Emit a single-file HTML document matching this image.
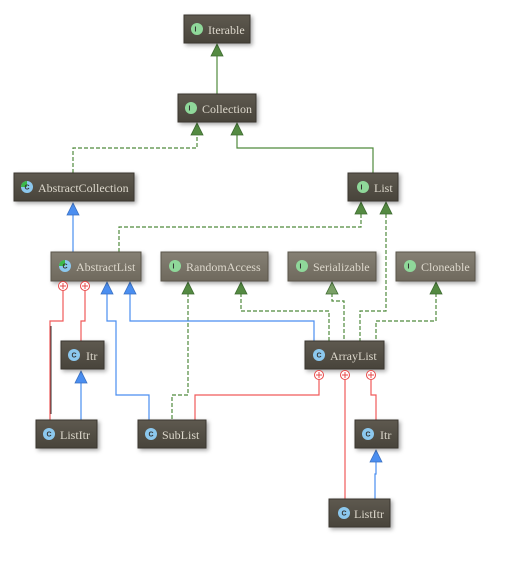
<!DOCTYPE html>
<html><head><style>
html,body{margin:0;padding:0;background:#fff;width:527px;height:572px;overflow:hidden}
svg{display:block}
text{font-family:"Liberation Serif","DejaVu Serif",serif;font-size:12px;fill:#ddd8cc}
.ic{font-family:"Liberation Sans",sans-serif;font-size:7px;font-weight:bold;fill:#333}
</style></head><body>
<svg width="527" height="572" viewBox="0 0 527 572" xmlns="http://www.w3.org/2000/svg">
<defs>
<linearGradient id="g" x1="0" y1="0" x2="0" y2="1"><stop offset="0" stop-color="#5e594f"/><stop offset="1" stop-color="#48443b"/></linearGradient>
<linearGradient id="g2" x1="0" y1="0" x2="0" y2="1"><stop offset="0" stop-color="#858074"/><stop offset="1" stop-color="#6f695d"/></linearGradient>
<marker id="ag" viewBox="0 0 12 12" refX="6" refY="0" markerWidth="12" markerHeight="12" orient="auto-start-reverse" markerUnits="userSpaceOnUse"><path d="M0,12 L6,0 L12,12 Z" fill="#548a42" stroke="#3d6a30" stroke-width="0.8"/></marker>
</defs>
<g fill="none" stroke-width="1.2">
<!-- green -->
<path d="M217 56V94" stroke="#4f8a3c"/>
<path d="M73 173V148H197V135" stroke="#4f8a3c" stroke-dasharray="4,2"/>
<path d="M373 173V148H237V135" stroke="#4f8a3c"/>
<path d="M119 252V227H361V214" stroke="#4f8a3c" stroke-dasharray="4,2"/>
<path d="M386 214V311H360V341" stroke="#4f8a3c" stroke-dasharray="4,2"/>
<path d="M188 293V395H172V420" stroke="#4f8a3c" stroke-dasharray="4,2"/>
<path d="M241 293V311H329V341" stroke="#4f8a3c" stroke-dasharray="4,2"/>
<path d="M332 293V301H344V341" stroke="#4f8a3c" stroke-dasharray="4,2"/>
<path d="M436 293V321H376V341" stroke="#4f8a3c" stroke-dasharray="4,2"/>
<!-- blue -->
<path d="M73 215V252" stroke="#4a8ef0"/>
<path d="M107 293V321H116V395H149V420" stroke="#4a8ef0"/>
<path d="M130 293V321H314V341" stroke="#4a8ef0"/>
<path d="M81 383V420" stroke="#4a8ef0"/>
<path d="M376 462V474H375V499" stroke="#4a8ef0"/>
<!-- red -->
<path d="M63 291V321H50V420" stroke="#f05a5a"/>
<path d="M85 291V321H81V341" stroke="#f05a5a"/>
<path d="M319 380V395H195V420" stroke="#f05a5a"/>
<path d="M345 380V499" stroke="#f05a5a"/>
<path d="M371 380V395H376V420" stroke="#f05a5a"/>
<path d="M51 326V414" stroke="#333" stroke-width="1"/>
</g>
<!-- green arrowheads -->
<g fill="#548a42" stroke="#3d6a30" stroke-width="0.8">
<path d="M211 56L217 44L223 56Z"/>
<path d="M191 135L197 123L203 135Z"/>
<path d="M231 135L237 123L243 135Z"/>
<path d="M355 214L361 202L367 214Z"/>
<path d="M380 214L386 202L392 214Z"/>
<path d="M182 294L188 282L194 294Z"/>
<path d="M235 294L241 282L247 294Z"/>
<path d="M326 294L332 282L338 294Z" fill="#7aa066"/>
<path d="M430 294L436 282L442 294Z"/>
</g>
<!-- blue arrowheads -->
<g fill="#4a8ef0" stroke="#3a70c0" stroke-width="0.8">
<path d="M67 215L73 203L79 215Z"/>
<path d="M101 294L107 282L113 294Z"/>
<path d="M124 294L130 282L136 294Z"/>
<path d="M75 383L81 371L87 383Z"/>
<path d="M370 462L376 450L382 462Z"/>
</g>
<!-- boxes -->
<g style="filter:drop-shadow(2px 2px 2px rgba(0,0,0,0.35))">
<rect x="184" y="15" width="66" height="28" fill="url(#g)" stroke="#3a362f"/>
<rect x="178" y="94" width="78" height="28" fill="url(#g)" stroke="#3a362f"/>
<rect x="14" y="173" width="120" height="28" fill="url(#g)" stroke="#3a362f"/>
<rect x="348" y="173" width="50" height="28" fill="url(#g)" stroke="#3a362f"/>
<rect x="51" y="252" width="90" height="29" fill="url(#g2)" stroke="#5a554a"/>
<rect x="161" y="252" width="107" height="29" fill="url(#g2)" stroke="#5a554a"/>
<rect x="288" y="252" width="88" height="29" fill="url(#g2)" stroke="#5a554a"/>
<rect x="396" y="252" width="79" height="29" fill="url(#g2)" stroke="#5a554a"/>
<rect x="61" y="341" width="43" height="28" fill="url(#g)" stroke="#3a362f"/>
<rect x="36" y="420" width="61" height="28" fill="url(#g)" stroke="#3a362f"/>
<rect x="138" y="420" width="68" height="28" fill="url(#g)" stroke="#3a362f"/>
<rect x="305" y="341" width="79" height="28" fill="url(#g)" stroke="#3a362f"/>
<rect x="355" y="420" width="43" height="28" fill="url(#g)" stroke="#3a362f"/>
<rect x="329" y="499" width="61" height="28" fill="url(#g)" stroke="#3a362f"/>
</g>
<!-- icons -->
<g>
<circle cx="197" cy="29" r="6" fill="#8fd89a"/><text x="194.5" y="31.5" class="ic">I</text>
<circle cx="191" cy="108" r="6" fill="#8fd89a"/><text x="188.5" y="110.5" class="ic">I</text>
<circle cx="27" cy="187" r="6" fill="#8cc8ee"/><path d="M27 181A6 6 0 0 0 21 187H27Z" fill="#3cb84a"/><text x="24.5" y="189.5" class="ic">C</text>
<circle cx="363" cy="187" r="6" fill="#8fd89a"/><text x="360.5" y="189.5" class="ic">I</text>
<circle cx="65" cy="266" r="6" fill="#8cc8ee"/><path d="M65 260A6 6 0 0 0 59 266H65Z" fill="#3cb84a"/><text x="62.5" y="268.5" class="ic">C</text>
<circle cx="175" cy="266" r="6" fill="#8fd89a"/><text x="172.5" y="268.5" class="ic">I</text>
<circle cx="302" cy="266" r="6" fill="#8fd89a"/><text x="299.5" y="268.5" class="ic">I</text>
<circle cx="410" cy="266" r="6" fill="#8fd89a"/><text x="407.5" y="268.5" class="ic">I</text>
<circle cx="74" cy="355" r="6" fill="#8cc8ee"/><text x="71.5" y="357.5" class="ic">C</text>
<circle cx="49" cy="434" r="6" fill="#8cc8ee"/><text x="46.5" y="436.5" class="ic">C</text>
<circle cx="151" cy="434" r="6" fill="#8cc8ee"/><text x="148.5" y="436.5" class="ic">C</text>
<circle cx="319" cy="355" r="6" fill="#8cc8ee"/><text x="316.5" y="357.5" class="ic">C</text>
<circle cx="368" cy="434" r="6" fill="#8cc8ee"/><text x="365.5" y="436.5" class="ic">C</text>
<circle cx="344" cy="513" r="6" fill="#8cc8ee"/><text x="341.5" y="515.5" class="ic">C</text>
</g>
<!-- labels -->
<text x="208" y="34">Iterable</text>
<text x="202" y="113">Collection</text>
<text x="38" y="192">AbstractCollection</text>
<text x="374" y="192">List</text>
<text x="76" y="271">AbstractList</text>
<text x="186" y="271">RandomAccess</text>
<text x="313" y="271">Serializable</text>
<text x="421" y="271">Cloneable</text>
<text x="86" y="360">Itr</text>
<text x="60" y="439">ListItr</text>
<text x="162" y="439">SubList</text>
<text x="330" y="360">ArrayList</text>
<text x="380" y="439">Itr</text>
<text x="354" y="518">ListItr</text>
<!-- plus circles -->
<g stroke="#e84a4a" stroke-width="1" fill="#fff">
<circle cx="63" cy="286" r="4.5"/><path d="M60 286H66M63 283V289"/>
<circle cx="85" cy="286" r="4.5"/><path d="M82 286H88M85 283V289"/>
<circle cx="319" cy="375" r="4.5"/><path d="M316 375H322M319 372V378"/>
<circle cx="345" cy="375" r="4.5"/><path d="M342 375H348M345 372V378"/>
<circle cx="371" cy="375" r="4.5"/><path d="M368 375H374M371 372V378"/>
</g>
</svg>
</body></html>
